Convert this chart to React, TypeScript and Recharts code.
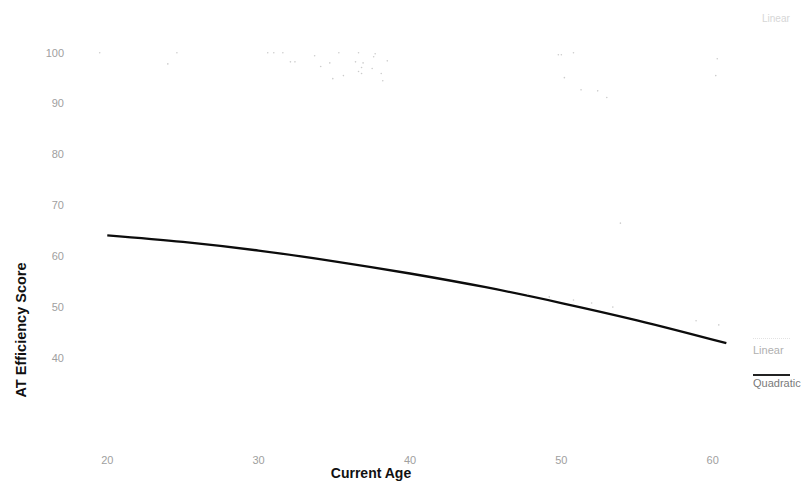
import React from "react";
import {
  ComposedChart,
  Line,
  Scatter,
  XAxis,
  YAxis,
  Legend,
} from "recharts";

// quadratic fit curve
const fitAges = [20, 25, 30, 35, 40, 45, 50, 55, 60.9];
const quadraticScores = [64.1, 62.8, 61.1, 59.0, 56.6, 53.9, 50.8, 47.4, 42.9];

// faint raw observations that survived the scan
const pointAges = [
  19.5, 24.6, 24.0, 30.6, 31.0, 31.6, 32.1, 32.4, 33.7, 35.3, 34.7, 34.1, 34.9,
  35.6, 36.6, 36.4, 36.9, 36.8, 36.6, 36.8, 37.6, 37.7, 37.5, 38.1, 38.2, 38.5,
  49.8, 50.0, 50.8, 50.2, 51.3, 52.4, 60.3, 60.2, 53.0, 47.8, 49.2, 50.8, 52.0,
  53.9, 53.4, 58.9, 60.4,
];
const pointScores = [
  100, 100, 97.8, 100, 100, 100, 98.2, 98.2, 99.4, 100, 98.0, 97.3, 94.9, 95.5,
  100, 98.2, 98.0, 97.1, 96.3, 95.9, 99.2, 99.8, 96.9, 95.9, 94.5, 98.4, 99.6,
  99.6, 100, 95.1, 92.7, 92.5, 98.8, 95.5, 91.2, 52.5, 52.0, 51.4, 50.8, 66.5,
  50.0, 47.3, 46.5,
];

const xTicks = [20, 30, 40, 50, 60];
const yTicks = [40, 50, 60, 70, 80, 90, 100];

const curveData = fitAges.map((age, i) => ({ age, quadratic: quadraticScores[i] }));
const pointData = pointAges.map((age, i) => ({ age, score: pointScores[i] }));

const FONT = "'Liberation Sans', Arial, Helvetica, sans-serif";

const tickStyle = { fill: "#a0a0a0", fontSize: 11, fontFamily: FONT };

const Dot = (props: any) => (
  <circle cx={props.cx} cy={props.cy} r={0.8} fill="#cccccc" />
);

const LegendBox = () => (
  <div style={{ position: "relative", width: 60, height: 70, fontFamily: FONT, fontSize: 11 }}>
    <div style={{ position: "absolute", left: 0, top: 8, width: 37, borderTop: "1px dotted #e2e2e2" }} />
    <div style={{ position: "absolute", left: 0, top: 14, lineHeight: "12px", color: "#b0b0b0" }}>Linear</div>
    <div style={{ position: "absolute", left: 0, top: 44, width: 37, borderTop: "2px solid #222" }} />
    <div style={{ position: "absolute", left: 0, top: 47, lineHeight: "12px", color: "#7a7a7a" }}>Quadratic</div>
  </div>
);

export default function App() {
  return (
    <div style={{ width: 796, height: 479, background: "#fff" }}>
      <ComposedChart
        width={796}
        height={479}
        margin={{ top: 4, right: 61, bottom: 8, left: 0 }}
      >
        <XAxis
          type="number"
          dataKey="age"
          domain={[18, 62]}
          ticks={xTicks}
          axisLine={false}
          tickLine={false}
          tickSize={0}
          tickMargin={37}
          tick={tickStyle}
          height={60}
          label={{
            content: () => (
              <text x={363} y={470} textAnchor="middle" fontFamily={FONT} fontSize={14} fontWeight="bold" fill="#111">
                Current Age
              </text>
            ),
          }}
        />
        <YAxis
          type="number"
          domain={[28, 108]}
          ticks={yTicks}
          axisLine={false}
          tickLine={false}
          tickSize={0}
          tickMargin={13}
          tick={tickStyle}
          width={69}
          label={{
            content: () => (
              <text x={18} y={322} transform="rotate(-90 18 322)" textAnchor="middle" fontFamily={FONT} fontSize={14.5} fontWeight="bold" fill="#111">
                AT Efficiency Score
              </text>
            ),
          }}
        />
        <Scatter data={pointData} dataKey="score" shape={<Dot />} isAnimationActive={false} legendType="none" />
        <Line
          data={curveData}
          dataKey="quadratic"
          type="monotone"
          stroke="#0c0c0c"
          strokeWidth={2.3}
          dot={false}
          isAnimationActive={false}
        />
        <Legend
          layout="vertical"
          align="center"
          verticalAlign="middle"
          content={<LegendBox />}
          wrapperStyle={{ position: "absolute", left: 745, top: 322, width: 60 }}
        />
        <text x={754} y={14} fontFamily={FONT} fontSize={10} fill="#d6d6d6">Linear</text>
      </ComposedChart>
    </div>
  );
}
